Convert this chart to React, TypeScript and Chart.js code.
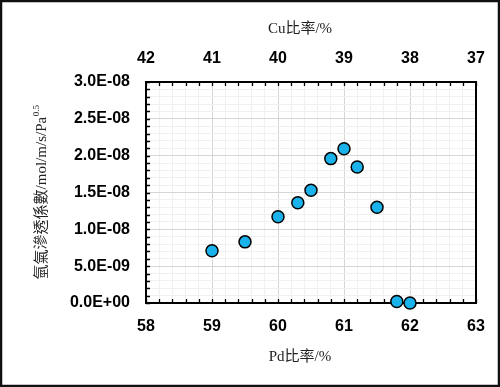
import React, { useEffect, useRef } from "react";
import { Chart, registerables } from "chart.js";

Chart.register(...registerables);

const pdRatio: number[] = [59.0, 59.5, 60.0, 60.3, 60.5, 60.8, 61.0, 61.2, 61.5, 61.8, 62.0];
const permeability: number[] = [7.1e-9, 8.3e-9, 1.17e-8, 1.36e-8, 1.53e-8, 1.96e-8, 2.095e-8, 1.845e-8, 1.3e-8, 2e-10, 0];
const xTitle = "Pd比率/%";
const x2Title = "Cu比率/%";
const yTitleMain = "氫氣滲透係數/mol/m/s/Pa";
const yTitleSup = "0.5";

const TICK_FONT = { family: "'Liberation Sans', Arial, sans-serif", size: 16, weight: "bold" as const };
const SERIF = "'Liberation Serif', 'Noto Sans CJK TC', serif";

function sci(v: number): string {
  if (Math.abs(v) < 1e-20) return "0.0E+00";
  const [m, e] = v.toExponential(1).split("e");
  const n = parseInt(e, 10);
  return m + "E" + (n < 0 ? "-" : "+") + String(Math.abs(n)).padStart(2, "0");
}
const isInt = (v: number) => Math.abs(v - Math.round(v)) < 1e-6;
const isMajorY = (v: number) => isInt(v / 5e-9);

const framePlugin = {
  id: "framePlugin",
  beforeDraw(chart: any) {
    const { ctx, width, height } = chart;
    ctx.save();
    ctx.fillStyle = "#ffffff";
    ctx.fillRect(0, 0, width, height);
    ctx.restore();
  },
  beforeDatasetsDraw(chart: any) {
    const { ctx, chartArea } = chart;
    const { left, right, top, bottom } = chartArea;
    const xs = chart.scales.x;
    const ys = chart.scales.y;
    const tl = 4;
    ctx.save();
    ctx.strokeStyle = "#000";
    ctx.lineWidth = 1.3;
    ctx.beginPath();
    xs.ticks.forEach((t: any) => {
      const px = Math.round(xs.getPixelForValue(t.value)) + 0.5;
      ctx.moveTo(px, bottom);
      ctx.lineTo(px, bottom - tl);
      ctx.moveTo(px, top);
      ctx.lineTo(px, top + tl);
    });
    ys.ticks.forEach((t: any) => {
      const py = Math.round(ys.getPixelForValue(t.value)) + 0.5;
      ctx.moveTo(left, py);
      ctx.lineTo(left + tl, py);
    });
    ctx.stroke();
    ctx.lineWidth = 2;
    ctx.strokeRect(left, top, right - left, bottom - top);
    ctx.restore();
  },
  afterDraw(chart: any) {
    const { ctx, width, height, chartArea } = chart;
    ctx.save();
    ctx.fillStyle = "#222";
    ctx.textAlign = "center";
    ctx.textBaseline = "middle";
    ctx.font = `15px ${SERIF}`;
    ctx.fillText(xTitle, 300, 357);
    ctx.fillText(x2Title, 300, 29);
    // y title with superscript
    const cy = (chartArea.top + chartArea.bottom) / 2;
    ctx.translate(42, cy);
    ctx.rotate(-Math.PI / 2);
    ctx.font = `15px ${SERIF}`;
    const wMain = ctx.measureText(yTitleMain).width;
    ctx.font = `9px ${SERIF}`;
    const wSup = ctx.measureText(yTitleSup).width;
    const start = -(wMain + wSup) / 2;
    ctx.textAlign = "left";
    ctx.font = `15px ${SERIF}`;
    ctx.fillText(yTitleMain, start, 0);
    ctx.font = `9px ${SERIF}`;
    ctx.fillText(yTitleSup, start + wMain + 0.5, -5);
    ctx.restore();
    ctx.save();
    ctx.strokeStyle = "#111";
    ctx.lineWidth = 2.5;
    ctx.strokeRect(1, 1, width - 2, height - 2);
    ctx.restore();
  },
};

export default function App() {
  const ref = useRef<HTMLCanvasElement | null>(null);
  useEffect(() => {
    document.body.style.margin = "0";
    if (!ref.current) return;
    const chart = new Chart(ref.current, {
      type: "scatter",
      data: {
        datasets: [
          {
            data: pdRatio.map((x, i) => ({ x, y: permeability[i] })),
            backgroundColor: "#19b2ea",
            borderColor: "#000000",
            borderWidth: 1.5,
            pointRadius: 6,
            pointHoverRadius: 6,
            clip: false as any,
          },
        ],
      },
      options: {
        responsive: false,
        animation: false,
        devicePixelRatio: 1,
        layout: { padding: { left: 0, top: 0, right: 24, bottom: 0 } },
        plugins: { legend: { display: false }, tooltip: { enabled: false } },
        scales: {
          x: {
            type: "linear",
            position: "bottom",
            min: 58,
            max: 63,
            afterFit: (s: any) => { s.height = 84; },
            border: { display: false },
            grid: {
              drawTicks: false,
              lineWidth: 1,
              color: (c: any) => (isInt(c.tick.value) ? "#d6d6d6" : "#f0f0f0"),
            },
            ticks: {
              stepSize: 0.2,
              autoSkip: false,
              maxRotation: 0,
              padding: 14,
              color: "#000",
              font: TICK_FONT,
              callback: (v: any) => (isInt(v) ? String(Math.round(v)) : ""),
            },
          },
          x2: {
            type: "linear",
            axis: "x",
            position: "top",
            min: 37,
            max: 42,
            reverse: true,
            afterFit: (s: any) => { s.height = 82; },
            border: { display: false },
            grid: { display: false, drawTicks: false },
            ticks: {
              stepSize: 0.2,
              autoSkip: false,
              maxRotation: 0,
              padding: 14,
              color: "#000",
              font: TICK_FONT,
              callback: (v: any) => (isInt(v) ? String(Math.round(v)) : ""),
            },
          },
          y: {
            type: "linear",
            position: "left",
            min: 0,
            max: 3e-8,
            afterFit: (s: any) => { s.width = 146; },
            border: { display: false },
            grid: {
              drawTicks: false,
              lineWidth: 1,
              color: (c: any) => (isMajorY(c.tick.value) ? "#d6d6d6" : "#f0f0f0"),
            },
            ticks: {
              stepSize: 1e-9,
              maxTicksLimit: 1000,
              autoSkip: false,
              padding: 16,
              color: "#000",
              font: TICK_FONT,
              callback: (v: any) => (isMajorY(v) ? sci(v) : ""),
            },
          },
        },
      },
      plugins: [framePlugin],
    } as any);
    return () => chart.destroy();
  }, []);
  return <canvas ref={ref} width={500} height={387} style={{ display: "block" }} />;
}
